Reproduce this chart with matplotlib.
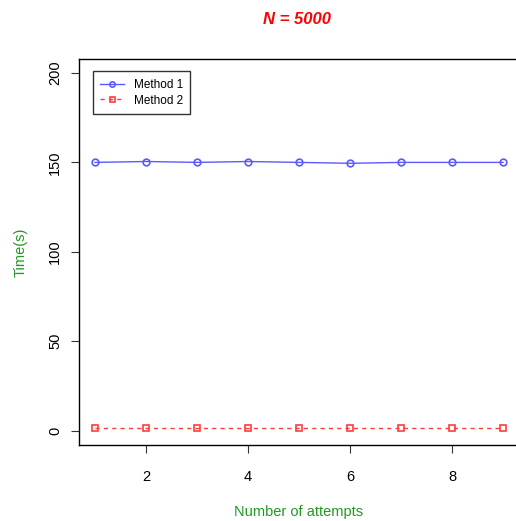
import matplotlib
matplotlib.use("Agg")
from matplotlib import pyplot as plt

# data
attempts = [1, 2, 3, 4, 5, 6, 7, 8, 9]
method1 = [150.0, 150.5, 150.0, 150.5, 150.0, 149.5, 150.0, 150.0, 150.0]
method2 = [1.5, 1.5, 1.5, 1.5, 1.5, 1.5, 1.5, 1.5, 1.5]
xticks = [2, 4, 6, 8]
yticks = [0, 50, 100, 150, 200]

plt.rcParams['font.family'] = ['Liberation Sans', 'DejaVu Sans']

fig = plt.figure(figsize=(5.16, 5.21), dpi=100)
ax = fig.add_axes([0.1525, 0.1459, 0.854, 0.7415])

blue = '#5a5aff'
red = '#ff3c3c'
green = '#1f9a1f'

ax.plot(attempts, method1, color=blue, lw=1, marker='o', ms=4.8,
        mfc='none', mec=blue, mew=1.2, label='Method 1')
ax.plot(attempts, method2, color=red, lw=1, ls=(0, (3, 3)), marker='s', ms=4.5,
        mfc='none', mec=red, mew=1.2, label='Method 2')

ax.set_xlim(0.68, 9.32)
ax.set_ylim(-8, 208)
ax.set_xticks(xticks)
ax.set_yticks(yticks)
ax.set_yticklabels([str(v) for v in yticks], rotation=90, va='center')
ax.tick_params(axis='both', labelsize=10.5, length=6, width=0.8, color='#333333')
ax.tick_params(axis='x', pad=12)
ax.tick_params(axis='y', pad=6)
for s in ax.spines.values():
    s.set_linewidth(1)

ax.set_xlabel('Number of attempts', color=green, fontsize=10.5, labelpad=15)
ax.set_ylabel('Time(s)', color=green, fontsize=10.5, labelpad=15)
fig.text(0.575, 0.962, 'N = 5000', color='red', fontsize=12,
         fontweight='bold', fontstyle='italic', ha='center', va='center')

leg = ax.legend(loc='upper left', bbox_to_anchor=(0.032, 0.967), fontsize=8.5,
                frameon=True, fancybox=False, edgecolor='black',
                handlelength=2.0, borderpad=0.65, labelspacing=0.3,
                handletextpad=0.8, markerscale=0.8, borderaxespad=0)
leg.get_frame().set_linewidth(1)

fig.savefig('out.png', dpi=100)
